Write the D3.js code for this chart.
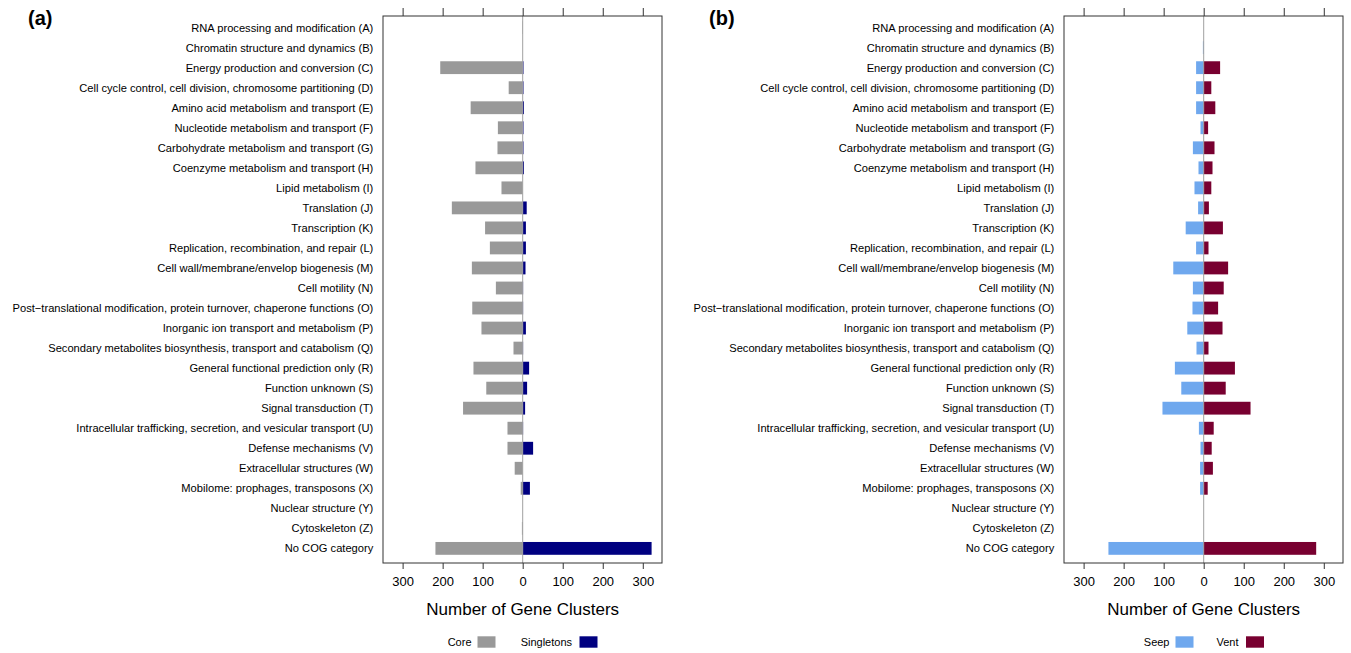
<!DOCTYPE html>
<html>
<head>
<meta charset="utf-8">
<script src="https://cdn.jsdelivr.net/npm/d3@7"></script>
<style>
    body { margin: 0; background: #fff; }
    text { font-family: "Liberation Sans", Arial, Helvetica, sans-serif; fill: #000; }
</style>
</head>
<body>
<div id="chart"></div>
<script>
// COG categories, top to bottom
var categories = [
    "RNA processing and modification (A)",
    "Chromatin structure and dynamics (B)",
    "Energy production and conversion (C)",
    "Cell cycle control, cell division, chromosome partitioning (D)",
    "Amino acid metabolism and transport (E)",
    "Nucleotide metabolism and transport (F)",
    "Carbohydrate metabolism and transport (G)",
    "Coenzyme metabolism and transport (H)",
    "Lipid metabolism (I)",
    "Translation (J)",
    "Transcription (K)",
    "Replication, recombination, and repair (L)",
    "Cell wall/membrane/envelop biogenesis (M)",
    "Cell motility (N)",
    "Post\u2212translational modification, protein turnover, chaperone functions (O)",
    "Inorganic ion transport and metabolism (P)",
    "Secondary metabolites biosynthesis, transport and catabolism (Q)",
    "General functional prediction only (R)",
    "Function unknown (S)",
    "Signal transduction (T)",
    "Intracellular trafficking, secretion, and vesicular transport (U)",
    "Defense mechanisms (V)",
    "Extracellular structures (W)",
    "Mobilome: prophages, transposons (X)",
    "Nuclear structure (Y)",
    "Cytoskeleton (Z)",
    "No COG category"
];

// panel (a)
var coreVals      = [1, 0, 206, 35, 130, 62, 63, 118, 53, 177, 94, 82, 127, 67, 126, 103, 23, 123, 91, 149, 38, 38, 20, 5, 0, 2, 218];
var singletonVals = [0, 0, 2, 2, 3, 2, 2, 3, 0, 10, 8, 8, 7, 1, 1, 8, 1, 16, 11, 6, 1, 26, 0, 18, 0, 0, 322];

// panel (b)
var seepVals = [0, 2, 19, 19, 19, 8, 27, 13, 23, 14, 45, 19, 76, 27, 28, 41, 18, 72, 56, 103, 12, 8, 9, 9, 0, 0, 238];
var ventVals = [0, 0, 41, 19, 29, 11, 27, 22, 19, 13, 48, 12, 61, 50, 36, 47, 12, 78, 55, 117, 25, 20, 23, 10, 0, 0, 281];

var tickVals = [-300, -200, -100, 0, 100, 200, 300];

var svgRoot = d3.select("#chart")
    .append("svg")
    .attr("width", 1351)
    .attr("height", 653);

class DivergingBarGraph
{
    constructor(opts)
    {
        this.left = opts.left;
        this.right = opts.right;
        this.top = 16;
        this.bottom = 563;
        this.opts = opts;

        this.initialize();
    }

    initialize()
    {
        var o = this.opts;
        var g = svgRoot.append("g");

        // Set the ranges
        this.xScale = d3.scaleLinear().domain([-349, 348]).range([this.left, this.right]);
        this.yScale = d3.scaleBand().domain(categories).range([17.6, 558.4])
            .paddingInner(0.36).paddingOuter(0.18);

        var x = this.xScale, y = this.yScale;

        // Panel letter
        g.append("text")
            .attr("x", o.letterX)
            .attr("y", 25)
            .style("font-size", "20px")
            .style("font-weight", "bold")
            .text(o.letter);

        // Category labels
        g.selectAll(".cat")
            .data(categories)
            .enter().append("text")
            .attr("class", "cat")
            .attr("x", this.left - 9.7)
            .attr("y", d => y(d) + y.bandwidth() / 2)
            .attr("dy", "0.35em")
            .style("text-anchor", "end")
            .style("font-size", "11.15px")
            .text(d => d);

        // Left (negative) bars
        g.selectAll(".negbar")
            .data(o.leftVals)
            .enter().append("rect")
            .attr("class", "negbar")
            .attr("x", d => x(-d))
            .attr("y", (d, i) => y(categories[i]))
            .attr("width", d => x(0) - x(-d))
            .attr("height", y.bandwidth())
            .attr("fill", o.leftColor);

        // Right (positive) bars
        g.selectAll(".posbar")
            .data(o.rightVals)
            .enter().append("rect")
            .attr("class", "posbar")
            .attr("x", x(0))
            .attr("y", (d, i) => y(categories[i]))
            .attr("width", d => x(d) - x(0))
            .attr("height", y.bandwidth())
            .attr("fill", o.rightColor);

        // zero line
        g.append("line")
            .attr("x1", x(0)).attr("x2", x(0))
            .attr("y1", this.top).attr("y2", this.bottom)
            .attr("stroke", "#a0a0a0")
            .attr("stroke-width", 1);

        // box
        g.append("rect")
            .attr("x", this.left)
            .attr("y", this.top)
            .attr("width", this.right - this.left)
            .attr("height", this.bottom - this.top)
            .attr("fill", "none")
            .attr("stroke", "#333")
            .attr("stroke-width", 1);

        // Add the top axis (ticks only)
        var topAxis = g.append("g")
            .attr("transform", "translate(0," + this.top + ")")
            .call(d3.axisTop(x).tickValues(tickVals).tickSize(8).tickFormat(""));
        topAxis.select(".domain").remove();
        topAxis.selectAll("line").attr("stroke", "#333");

        // Add the bottom axis
        var botAxis = g.append("g")
            .attr("transform", "translate(0," + this.bottom + ")")
            .call(d3.axisBottom(x).tickValues(tickVals).tickSize(6).tickPadding(8)
                .tickFormat(d => Math.abs(d)));
        botAxis.select(".domain").remove();
        botAxis.selectAll("line").attr("stroke", "#333");
        botAxis.selectAll("text")
            .style("font-size", "13px")
            .style("font-family", "'Liberation Sans', Arial, sans-serif")
            .attr("fill", "#000");

        // text label for the x axis
        g.append("text")
            .attr("x", x(0))
            .attr("y", 615)
            .style("text-anchor", "middle")
            .style("font-size", "17px")
            .text("Number of Gene Clusters");

        // legend
        var lg = g.append("g").attr("transform", "translate(0,642)");
        lg.append("text")
            .attr("x", o.legendX[0])
            .attr("dy", "0.35em")
            .style("text-anchor", "end")
            .style("font-size", "11px")
            .text(o.legendNames[0]);
        lg.append("rect")
            .attr("x", o.legendX[0] + 6).attr("y", -5.7)
            .attr("width", 18).attr("height", 11.4)
            .attr("fill", o.leftColor);
        lg.append("text")
            .attr("x", o.legendX[1])
            .attr("dy", "0.35em")
            .style("text-anchor", "end")
            .style("font-size", "11px")
            .text(o.legendNames[1]);
        lg.append("rect")
            .attr("x", o.legendX[1] + 7.5).attr("y", -5.7)
            .attr("width", 18).attr("height", 11.4)
            .attr("fill", o.rightColor);
    }
};

new DivergingBarGraph({
    left: 383, right: 662,
    letter: "(a)", letterX: 28,
    leftVals: coreVals, rightVals: singletonVals,
    leftColor: "#999999", rightColor: "#000080",
    legendNames: ["Core", "Singletons"],
    legendX: [471.5, 572]
});

new DivergingBarGraph({
    left: 1064, right: 1343,
    letter: "(b)", letterX: 709,
    leftVals: seepVals, rightVals: ventVals,
    leftColor: "#6fa8ee", rightColor: "#780030",
    legendNames: ["Seep", "Vent"],
    legendX: [1169.5, 1238.5]
});
</script>
</body>
</html>
